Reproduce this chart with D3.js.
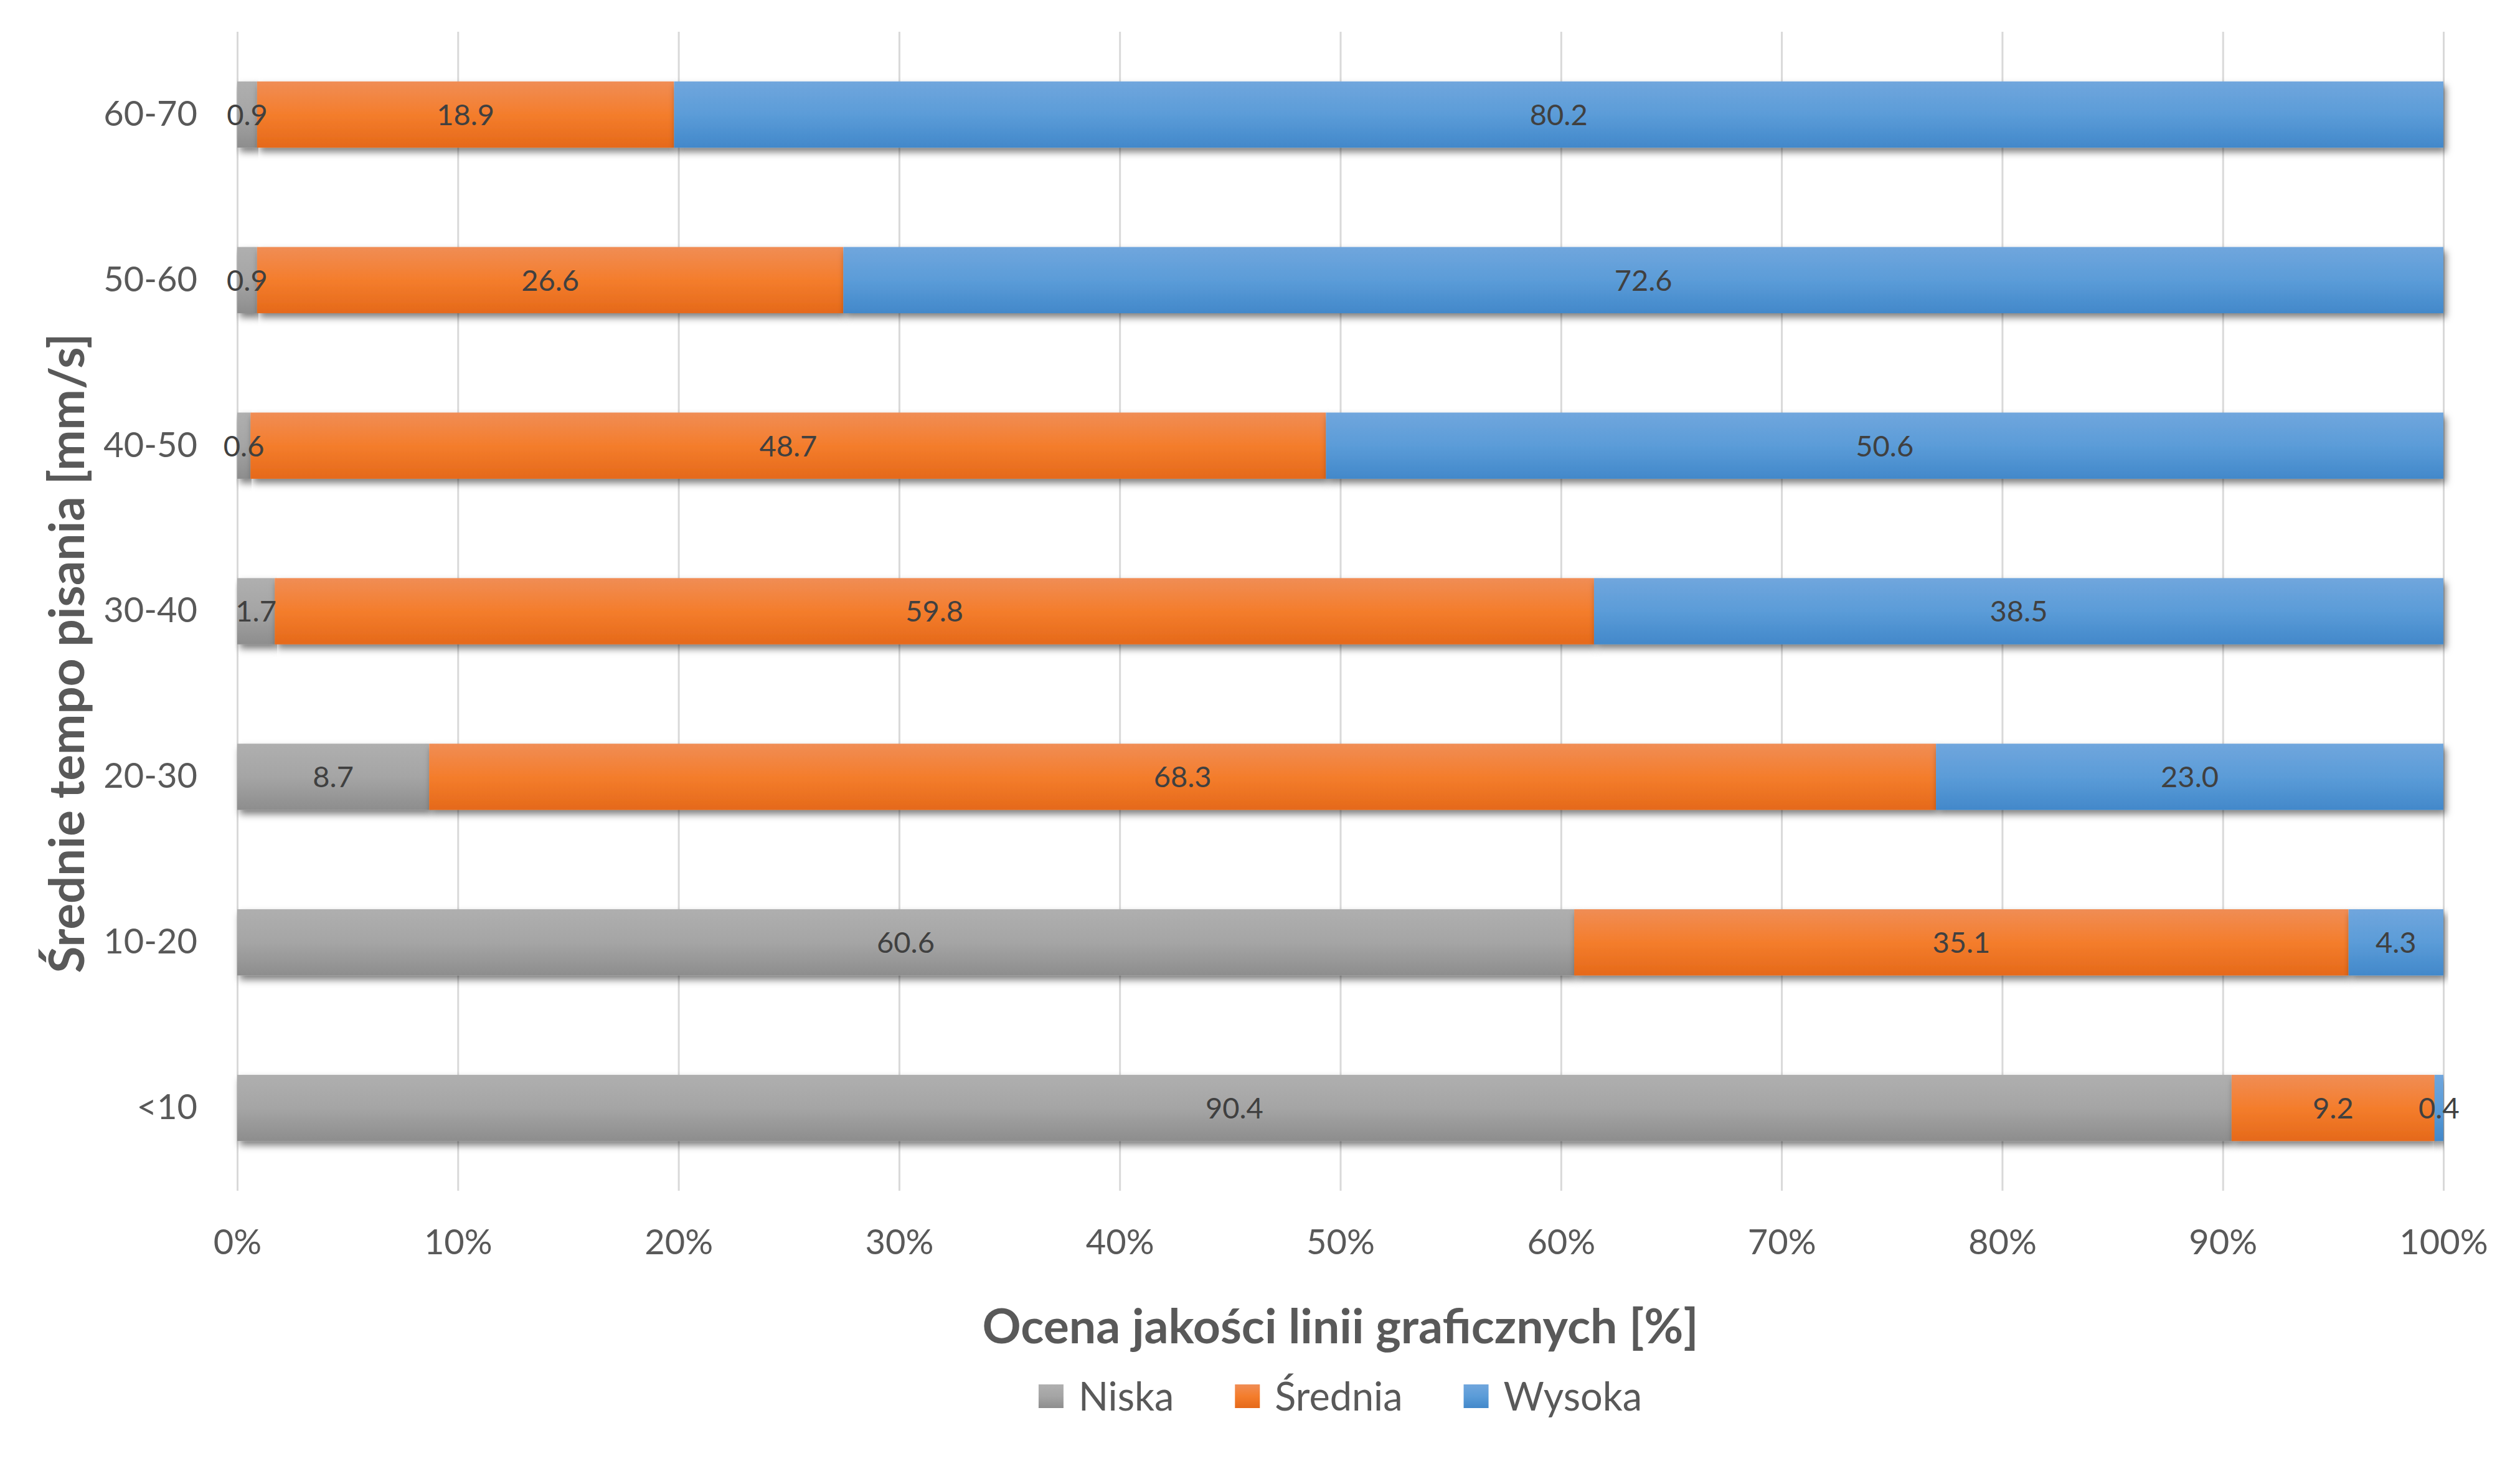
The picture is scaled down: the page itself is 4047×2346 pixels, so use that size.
<!DOCTYPE html>
<html>
<head>
<meta charset="utf-8">
<script src="https://cdn.jsdelivr.net/npm/d3@7"></script>
<style>
  html, body { margin: 0; padding: 0; background: #fff; }
  svg { display: block; }
</style>
</head>
<body>
<div id="chart"></div>
<script>
const categories = ["60-70", "50-60", "40-50", "30-40", "20-30", "10-20", "<10"];
const seriesNames = ["Niska", "Średnia", "Wysoka"];
const niska = [0.9, 0.9, 0.6, 1.7, 8.7, 60.6, 90.4];
const srednia = [18.9, 26.6, 48.7, 59.8, 68.3, 35.1, 9.2];
const wysoka = [80.2, 72.6, 50.6, 38.5, 23.0, 4.3, 0.4];
const xTicks = [0, 10, 20, 30, 40, 50, 60, 70, 80, 90, 100];

const W = 4047, H = 2346;
const plot = { left: 381, right: 3924, top: 51, bottom: 1912 };
const font = "Lato, 'Open Sans', sans-serif";

const rows = categories.map((c, i) => ({
  cat: c,
  Niska: niska[i],
  "Średnia": srednia[i],
  Wysoka: wysoka[i],
}));

const svg = d3.select("#chart").append("svg")
  .attr("width", W).attr("height", H)
  .attr("viewBox", `0 0 ${W} ${H}`);

svg.append("rect").attr("width", W).attr("height", H).attr("fill", "#fff");

const defs = svg.append("defs");
const grads = [
  ["g0", "#afafaf", "#a5a5a5", "#8d8d8d"],
  ["g1", "#f08d55", "#f47d2c", "#e5691a"],
  ["g2", "#70a6dd", "#5b9cd8", "#4288ca"],
];
grads.forEach(([id, a, b, c]) => {
  const g = defs.append("linearGradient").attr("id", id)
    .attr("x1", 0).attr("y1", 0).attr("x2", 0).attr("y2", 1);
  g.append("stop").attr("offset", "0%").attr("stop-color", a);
  g.append("stop").attr("offset", "50%").attr("stop-color", b);
  g.append("stop").attr("offset", "100%").attr("stop-color", c);
});
const shadow = defs.append("filter").attr("id", "shadow")
  .attr("x", "-5%").attr("y", "-30%").attr("width", "110%").attr("height", "170%");
shadow.append("feDropShadow")
  .attr("dx", 4).attr("dy", 7).attr("stdDeviation", 6)
  .attr("flood-color", "#000").attr("flood-opacity", 0.5);

const x = d3.scaleLinear().domain([0, 100]).range([plot.left, plot.right]);
const y = d3.scaleBand().domain(categories)
  .range([plot.top, plot.bottom])
  .paddingInner(0.6).paddingOuter(0.3);

// gridlines + x tick labels
const xAxisG = svg.append("g")
  .attr("transform", `translate(0,${plot.bottom})`)
  .call(d3.axisBottom(x).tickValues(xTicks)
    .tickSizeInner(-(plot.bottom - plot.top)).tickSizeOuter(0)
    .tickPadding(62).tickFormat((d) => d + "%"));
xAxisG.select(".domain").remove();
xAxisG.selectAll(".tick line").attr("stroke", "#d9d9d9").attr("stroke-width", 3);
xAxisG.selectAll(".tick text")
  .attr("fill", "#595959").style("font-family", font).style("font-size", "56px");

// stacked (100%) bars
const stack = d3.stack().keys(seriesNames)
  .offset(d3.stackOffsetExpand);
const layers = stack(rows);

const barG = svg.append("g");
layers.forEach((layer, si) => {
  barG.append("g")
    .selectAll("rect")
    .data(layer)
    .join("rect")
    .attr("x", (d) => x(d[0] * 100))
    .attr("width", (d) => x(d[1] * 100) - x(d[0] * 100))
    .attr("y", (d) => y(d.data.cat))
    .attr("height", y.bandwidth())
    .attr("fill", `url(#g${si})`)
    .attr("filter", "url(#shadow)");
});

// data labels
const labelG = svg.append("g");
layers.forEach((layer) => {
  labelG.append("g")
    .selectAll("text")
    .data(layer)
    .join("text")
    .attr("x", (d) => x((d[0] + d[1]) / 2 * 100))
    .attr("y", (d) => y(d.data.cat) + y.bandwidth() / 2)
    .attr("dy", "0.36em")
    .attr("text-anchor", "middle")
    .attr("fill", "#404040")
    .style("font-family", font)
    .style("font-size", "47px")
    .text((d) => d.data[layer.key].toFixed(1));
});

// category axis
const yAxisG = svg.append("g")
  .attr("transform", `translate(${plot.left},0)`)
  .call(d3.axisLeft(y).tickSize(0).tickPadding(64));
yAxisG.select(".domain").remove();
yAxisG.selectAll(".tick text")
  .attr("fill", "#595959").style("font-family", font).style("font-size", "56px");

// axis titles
svg.append("text")
  .attr("x", (plot.left + plot.right) / 2)
  .attr("y", 2157)
  .attr("text-anchor", "middle")
  .attr("fill", "#595959")
  .style("font-family", font).style("font-size", "77px").style("font-weight", "bold")
  .text("Ocena jakości linii graficznych [%]");

svg.append("text")
  .attr("transform", "translate(135,1049) rotate(-90)")
  .attr("text-anchor", "middle")
  .attr("fill", "#595959")
  .style("font-family", font).style("font-size", "78px").style("font-weight", "bold")
  .text("Średnie tempo pisania [mm/s]");

// legend
const legend = svg.append("g");
const items = legend.selectAll("g").data(seriesNames).join("g");
items.append("rect")
  .attr("width", 40).attr("height", 38).attr("y", -19)
  .attr("fill", (d, i) => `url(#g${i})`);
items.append("text")
  .attr("x", 64).attr("dy", "0.36em")
  .attr("fill", "#595959")
  .style("font-family", font).style("font-size", "63px")
  .text((d) => d);
let off = 0;
items.each(function () {
  const w = this.getBBox().width;
  d3.select(this).attr("transform", `translate(${off},0)`);
  off += w + 98;
});
const legendW = off - 98;
legend.attr("transform",
  `translate(${(plot.left + plot.right) / 2 - legendW / 2},2242)`);
</script>
</body>
</html>
